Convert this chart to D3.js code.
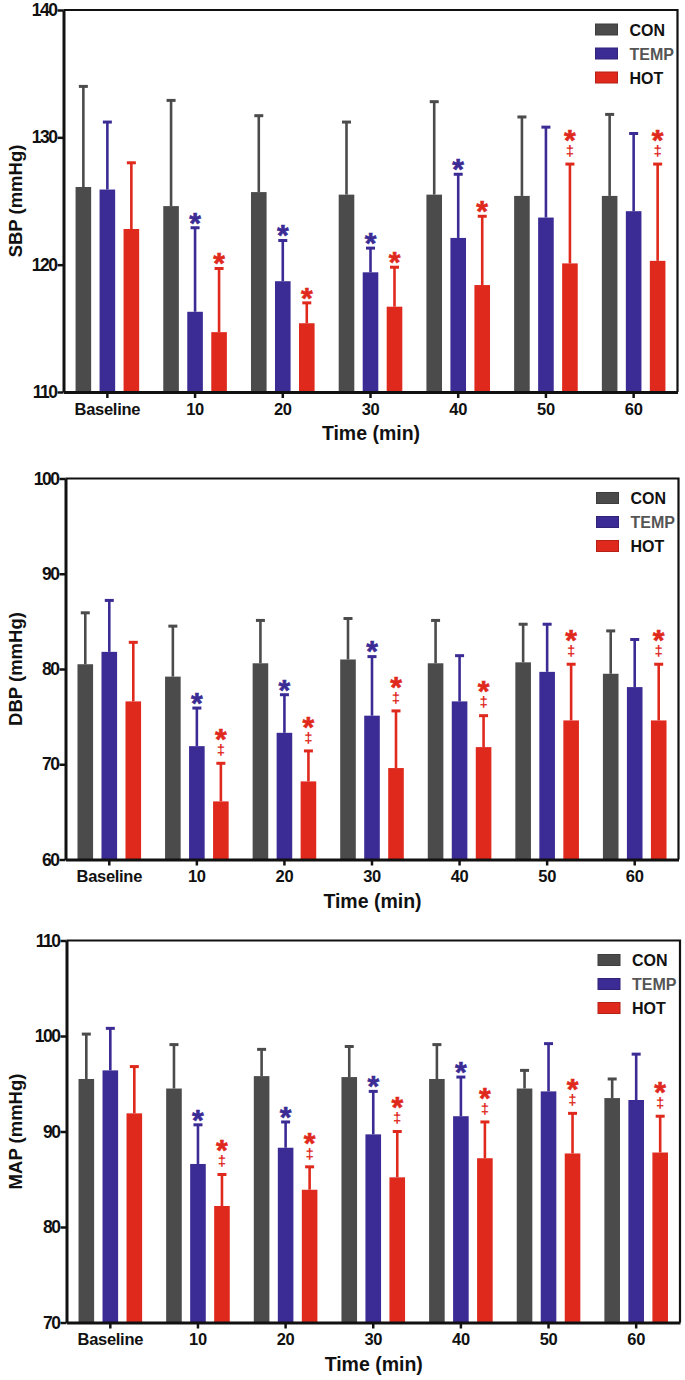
<!DOCTYPE html>
<html>
<head>
<meta charset="utf-8">
<script src="https://cdn.jsdelivr.net/npm/d3@7/dist/d3.min.js"></script>
<style>
  body { margin: 0; background: #fff; }
  svg { display: block; font-family: 'Liberation Sans', Arial, sans-serif; font-weight: bold; }
</style>
</head>
<body>
<svg id="chart" width="685" height="1380"></svg>
<script>
var categories = ['Baseline', '10', '20', '30', '40', '50', '60'];
var groups = ['CON', 'TEMP', 'HOT'];
var colors = ['#4b4b4b', '#3b2b95', '#e0291d'];

// SBP (mmHg): means and SD per group
var sbpCon = [126.1, 124.6, 125.7, 125.5, 125.5, 125.4, 125.4];
var sbpConSd = [7.9, 8.3, 6.0, 5.7, 7.3, 6.2, 6.4];
var sbpTemp = [125.9, 116.3, 118.7, 119.4, 122.1, 123.7, 124.2];
var sbpTempSd = [5.3, 6.6, 3.2, 1.9, 5.0, 7.1, 6.1];
var sbpHot = [122.8, 114.7, 115.4, 116.7, 118.4, 120.1, 120.3];
var sbpHotSd = [5.2, 5.0, 1.6, 3.1, 5.4, 7.8, 7.6];
var sbpTempMark = ['', '*', '*', '*', '*', '', ''];
var sbpHotMark = ['', '*', '*', '*', '*', '*‡', '*‡'];
var sbpTicks = [110, 120, 130, 140];

// DBP (mmHg)
var dbpCon = [80.5, 79.2, 80.6, 81.0, 80.6, 80.7, 79.5];
var dbpConSd = [5.4, 5.3, 4.5, 4.3, 4.5, 4.0, 4.5];
var dbpTemp = [81.8, 71.9, 73.3, 75.1, 76.6, 79.7, 78.1];
var dbpTempSd = [5.4, 4.0, 4.0, 6.2, 4.8, 5.0, 5.0];
var dbpHot = [76.6, 66.1, 68.2, 69.6, 71.8, 74.6, 74.6];
var dbpHotSd = [6.2, 4.0, 3.2, 6.0, 3.3, 5.9, 5.9];
var dbpTempMark = ['', '*', '*', '*', '', '', ''];
var dbpHotMark = ['', '*‡', '*‡', '*‡', '*‡', '*‡', '*‡'];
var dbpTicks = [60, 70, 80, 90, 100];

// MAP (mmHg)
var mapCon = [95.5, 94.5, 95.8, 95.7, 95.5, 94.5, 93.5];
var mapConSd = [4.7, 4.6, 2.8, 3.2, 3.6, 1.9, 2.0];
var mapTemp = [96.4, 86.6, 88.3, 89.7, 91.6, 94.2, 93.3];
var mapTempSd = [4.4, 4.1, 2.7, 4.5, 4.1, 5.0, 4.8];
var mapHot = [91.9, 82.2, 83.9, 85.2, 87.2, 87.7, 87.8];
var mapHotSd = [4.9, 3.3, 2.4, 4.8, 3.8, 4.2, 3.8];
var mapTempMark = ['', '*', '*', '*', '*', '', ''];
var mapHotMark = ['', '*‡', '*‡', '*‡', '*‡', '*‡', '*‡'];
var mapTicks = [70, 80, 90, 100, 110];

var panels = [
    { label: 'SBP (mmHg)', ticks: sbpTicks, means: [sbpCon, sbpTemp, sbpHot], sds: [sbpConSd, sbpTempSd, sbpHotSd],
      marks: [null, sbpTempMark, sbpHotMark], box: { left: 63.5, right: 677.5, top: 10, bottom: 392 } },
    { label: 'DBP (mmHg)', ticks: dbpTicks, means: [dbpCon, dbpTemp, dbpHot], sds: [dbpConSd, dbpTempSd, dbpHotSd],
      marks: [null, dbpTempMark, dbpHotMark], box: { left: 65.5, right: 678.5, top: 478.5, bottom: 859.5 } },
    { label: 'MAP (mmHg)', ticks: mapTicks, means: [mapCon, mapTemp, mapHot], sds: [mapConSd, mapTempSd, mapHotSd],
      marks: [null, mapTempMark, mapHotMark], box: { left: 66.5, right: 680, top: 940.5, bottom: 1322.5 } }
];

var svg = d3.select('#chart');

panels.forEach(function (p, pi) {
    var b = p.box;
    var g = svg.append('g').attr('class', 'panel panel-' + pi);

    var x0 = d3.scaleBand().domain(categories).range([b.left, b.right]).paddingInner(0).paddingOuter(0);
    var x1 = d3.scaleBand().domain(groups).range([-36, 36]).paddingInner(0.35).paddingOuter(0.175);
    var y = d3.scaleLinear().domain(d3.extent(p.ticks)).range([b.bottom, b.top]);

    var rows = [];
    categories.forEach(function (c, ci) {
        groups.forEach(function (s, si) {
            rows.push({
                cat: c, series: s, si: si,
                mean: p.means[si][ci], sd: p.sds[si][ci],
                mark: p.marks[si] ? p.marks[si][ci] : ''
            });
        });
    });

    function cx(d) {
        return x0(d.cat) + x0.bandwidth() / 2 + x1(d.series) + x1.bandwidth() / 2;
    }

    // bars
    g.selectAll('.bar')
        .data(rows)
        .enter().append('rect')
        .attr('class', 'bar')
        .attr('x', function (d) { return cx(d) - x1.bandwidth() / 2; })
        .attr('width', x1.bandwidth())
        .attr('y', function (d) { return y(d.mean); })
        .attr('height', function (d) { return y.range()[0] - y(d.mean); })
        .style('fill', function (d) { return colors[d.si]; });

    // error bars (upper only)
    var err = g.selectAll('.err')
        .data(rows)
        .enter().append('g')
        .attr('class', 'err')
        .style('stroke', function (d) { return colors[d.si]; });

    err.append('line')
        .attr('x1', cx).attr('x2', cx)
        .attr('y1', function (d) { return y(d.mean); })
        .attr('y2', function (d) { return y(d.mean + d.sd); })
        .style('stroke-width', 2.6);

    err.append('line')
        .attr('x1', function (d) { return cx(d) - 4.5; })
        .attr('x2', function (d) { return cx(d) + 4.5; })
        .attr('y1', function (d) { return y(d.mean + d.sd); })
        .attr('y2', function (d) { return y(d.mean + d.sd); })
        .style('stroke-width', 3);

    // significance marks: one text per bar, '‡' on its own line under '*'
    var mk = g.selectAll('.mark')
        .data(rows.filter(function (d) { return d.mark; }))
        .enter().append('text')
        .attr('class', 'mark')
        .attr('text-anchor', 'middle')
        .style('fill', function (d) { return colors[d.si]; });

    mk.append('tspan')
        .attr('x', cx)
        .attr('y', function (d) {
            var capY = y(d.mean + d.sd);
            var off = d.mark.indexOf('‡') >= 0 ? 31 : 12;
            return capY - off + 0.56 * 30;
        })
        .style('font-size', '30px')
        .style('stroke', function (d) { return colors[d.si]; })
        .style('stroke-width', 0.6)
        .text('*');

    mk.filter(function (d) { return d.mark.indexOf('‡') >= 0; })
        .append('tspan')
        .attr('x', cx)
        .attr('y', function (d) { return y(d.mean + d.sd) - 12.8 + 0.3 * 15; })
        .style('font-size', '15px')
        .text('‡');

    // frame top/right
    g.append('path')
        .attr('d', 'M' + b.left + ',' + b.top + 'H' + b.right + 'V' + b.bottom)
        .style('fill', 'none')
        .style('stroke', '#111')
        .style('stroke-width', 2.2);

    // axes
    var yAxis = g.append('g')
        .attr('transform', 'translate(' + b.left + ',0)')
        .call(d3.axisLeft(y).tickValues(p.ticks).tickSize(6).tickSizeOuter(0).tickPadding(1));
    var xAxis = g.append('g')
        .attr('transform', 'translate(0,' + b.bottom + ')')
        .call(d3.axisBottom(x0).tickSize(6).tickSizeOuter(0).tickPadding(5));

    [yAxis, xAxis].forEach(function (a) {
        a.select('.domain').style('stroke', '#111').style('stroke-width', 3);
        a.selectAll('.tick line').style('stroke', '#111').style('stroke-width', 2.5);
        a.selectAll('.tick text')
            .style('fill', '#111')
            .style('font-family', "'Liberation Sans', Arial, sans-serif")
            .style('font-weight', 'bold');
    });
    yAxis.selectAll('.tick text').style('font-size', '17.5px').style('letter-spacing', '-1.5px');
    xAxis.selectAll('.tick text').style('font-size', '16.5px').style('letter-spacing', '-0.3px');

    // axis titles
    g.append('text')
        .attr('transform', 'translate(22,' + ((b.top + b.bottom) / 2) + ') rotate(-90)')
        .attr('text-anchor', 'middle')
        .style('font-size', '18.5px')
        .style('fill', '#111')
        .text(p.label);

    g.append('text')
        .attr('x', (b.left + b.right) / 2 + 0.5)
        .attr('y', b.bottom + 48)
        .attr('text-anchor', 'middle')
        .style('font-size', '19.5px')
        .style('fill', '#111')
        .text('Time (min)');

    // legend
    var legend = g.append('g')
        .attr('class', 'legend')
        .attr('transform', 'translate(' + (b.right - 82) + ',' + (b.top + 19.5) + ')');

    var item = legend.selectAll('.item')
        .data(groups)
        .enter().append('g')
        .attr('class', 'item')
        .attr('transform', function (d, i) { return 'translate(0,' + (i * 24) + ')'; });

    item.append('rect')
        .attr('x', 0).attr('y', -5.5)
        .attr('width', 22).attr('height', 11)
        .style('fill', function (d, i) { return colors[i]; })
        .style('stroke', function (d, i) { return d3.color(colors[i]).darker(0.6); })
        .style('stroke-width', 1);

    item.append('text')
        .attr('x', 34)
        .attr('y', 6)
        .style('font-size', '16px')
        .style('fill', function (d) { return d == 'TEMP' ? '#555' : '#111'; })
        .text(function (d) { return d; });
});
</script>
</body>
</html>
